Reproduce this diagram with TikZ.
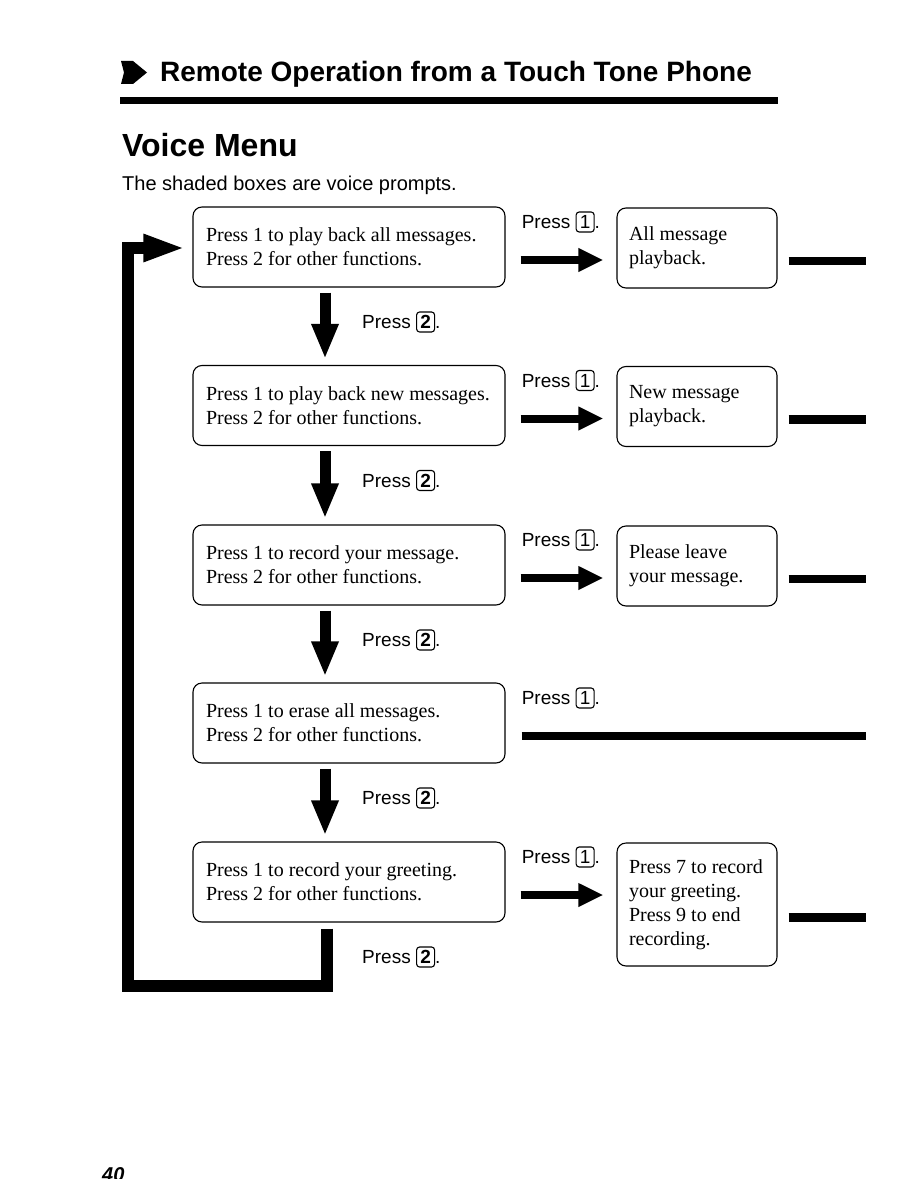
\documentclass[tikz,border=0pt]{standalone}
\usepackage{fontspec}
\setmainfont{Liberation Serif}
\setsansfont{Liberation Sans}
\usetikzlibrary{arrows.meta,positioning}

\newcommand\keycap[1]{\tikz[baseline=(k.base)]\node[draw,line width=1.1pt,rounded corners=3pt,inner sep=0pt,minimum width=18pt,minimum height=20pt](k){#1};}

\begin{document}
\begin{tikzpicture}[x=1pt,y=-1pt,
 vbox/.style={draw,line width=1.1pt,rounded corners=9pt,fill=white,minimum width=312pt,minimum height=80pt,text width=286pt,inner xsep=13pt,align=flush left,font=\fontsize{20}{24}\selectfont},
 rbox/.style={vbox,minimum width=160pt,text width=136pt,inner xsep=12pt},
 lbl/.style={anchor=west,inner sep=0pt,font=\sffamily\fontsize{19}{22}\selectfont},
 rarr/.style={line width=8pt,-{Triangle[length=25pt,width=22pt]},shorten <=15pt,shorten >=13pt},
 darr/.style={line width=11pt,-{Triangle[length=35pt,width=25pt]},shorten <=5pt,shorten >=6pt},
 stub/.style={line width=8.5pt,shorten <=11pt}]
\useasboundingbox (0,0) rectangle (918,1188);
% heading
\fill (121,61)--(133,61)--(147,72.5)--(133,84)--(121,84)--(124,72.5)--cycle;
\node[anchor=base west,inner sep=0pt,font=\sffamily\bfseries\fontsize{28}{32}\selectfont] (title) at (160,82) {Remote Operation from a Touch Tone Phone};
\fill (120,97) rectangle (778,104);
\node[anchor=base west,inner sep=0pt,font=\sffamily\bfseries\fontsize{32}{36}\selectfont] (vmenu) at (122,157) {Voice Menu};
\node[anchor=base west,inner sep=0pt,font=\sffamily\fontsize{20}{24}\selectfont] (note) at (122,190) {The shaded boxes are voice prompts.};
% voice prompts
\node[vbox] (b1) at (349,247) {Press 1 to play back all messages.\\Press 2 for other functions.};
\node[vbox] (b2) at (349,405.5) {Press 1 to play back new messages.\\Press 2 for other functions.};
\node[vbox] (b3) at (349,565) {Press 1 to record your message.\\Press 2 for other functions.};
\node[vbox] (b4) at (349,723) {Press 1 to erase all messages.\\Press 2 for other functions.};
\node[vbox] (b5) at (349,882) {Press 1 to record your greeting.\\Press 2 for other functions.};
\node[rbox] (r1) at (697,248) {All message\\playback.};
\node[rbox] (r2) at (697,406.5) {New message\\playback.};
\node[rbox] (r3) at (697,566) {Please leave\\your message.};
\node[rbox,minimum height=123pt] (r5) at (697,904.5) {Press 7 to record\\your greeting.\\Press 9 to end\\recording.};
% keys
\foreach \i in {1,...,5}{
 \node[lbl] (p\i) at ([xshift=16pt,yshift=25pt]b\i.east) {Press \keycap{1}.};
 \node[lbl] (q\i) at ([xshift=13pt,yshift=-75pt]b\i.center) {Press \keycap{\textbf{2}}.};
}
\foreach \i in {1,2,3,5}{
 \draw[rarr] ([yshift=-13pt]b\i.east) -- ([yshift=-13pt]b\i.east -| r\i.west);
 \coordinate (e\i) at ([xshift=88pt,yshift=-13pt]r\i.east);
 \draw[stub] ([yshift=-13pt]r\i.east) -- (e\i);
}
\coordinate (e4) at ([xshift=360pt,yshift=-13pt]b4.east);
\draw[stub,shorten <=16pt] ([yshift=-13pt]b4.east) -- (e4);
\foreach \i/\j in {1/2,2/3,3/4,4/5}
 \draw[darr] ([xshift=-24pt]b\i.south) -- ([xshift=-24pt]b\j.north);
% back to the top
\coordinate (c0) at (128,986);
\draw[line width=11.5pt,-{Triangle[length=42pt,width=25pt]}] ([xshift=-22pt,yshift=-6pt]b5.south) |- (c0) |- ([xshift=-7pt,yshift=-1pt]b1.west);
\begin{scope}
\clip (0,0) rectangle (918,1178);
\node[anchor=north west,inner sep=0pt,font=\sffamily\bfseries\itshape\fontsize{20}{24}\selectfont] (pg) at (102,1167) {40};
\end{scope}
\end{tikzpicture}
\end{document}
